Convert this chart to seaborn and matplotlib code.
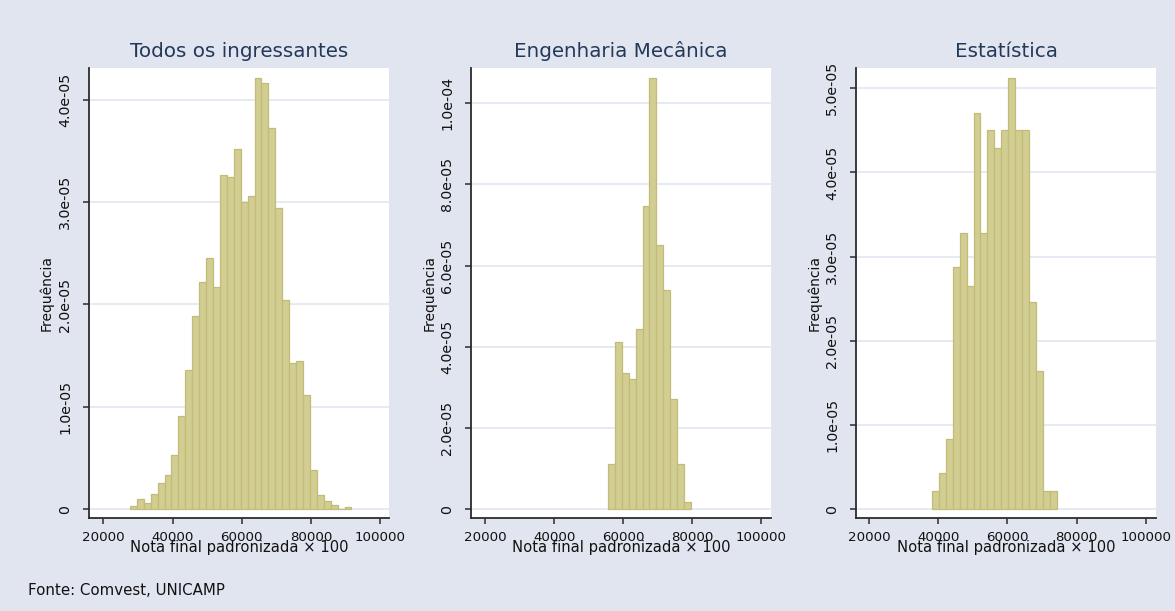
import numpy as np
import pandas as pd
import matplotlib
matplotlib.use("Agg")
import matplotlib.pyplot as plt
import seaborn as sns

# ---------------- data (densities) ----------------
titles = ["Todos os ingressantes", "Engenharia Mecânica", "Estatística"]
bin_width = 2000

todos_start = 27700
todos_density = [0.3e-6, 1.0e-6, 0.65e-6, 1.46e-6, 2.57e-6, 3.35e-6, 5.27e-6, 9.07e-6,
                 1.363e-5, 1.886e-5, 2.221e-5, 2.455e-5, 2.169e-5, 3.265e-5, 3.249e-5,
                 3.519e-5, 2.998e-5, 3.057e-5, 4.211e-5, 4.163e-5, 3.72e-5, 2.946e-5,
                 2.045e-5, 1.428e-5, 1.444e-5, 1.112e-5, 3.84e-6, 1.37e-6, 0.85e-6,
                 0.39e-6, 0.0, 0.25e-6]

mec_start = 55700
mec_density = [1.12e-5, 4.12e-5, 3.36e-5, 3.20e-5, 4.44e-5, 7.47e-5, 1.062e-4,
               6.52e-5, 5.40e-5, 2.72e-5, 1.12e-5, 1.7e-6]

est_start = 38200
est_density = [2.17e-6, 4.31e-6, 8.34e-6, 2.874e-5, 3.277e-5, 2.656e-5, 4.711e-5,
               3.277e-5, 4.502e-5, 4.292e-5, 4.502e-5, 5.119e-5, 4.502e-5, 4.502e-5,
               2.466e-5, 1.640e-5, 2.17e-6, 2.17e-6]

x_ticks = [20000, 40000, 60000, 80000, 100000]
y_ticks = [
    [0, 1e-5, 2e-5, 3e-5, 4e-5],
    [0, 2e-5, 4e-5, 6e-5, 8e-5, 1e-4],
    [0, 1e-5, 2e-5, 3e-5, 4e-5, 5e-5],
]
y_tops = [4.312e-5, 1.0873e-4, 5.243e-5]
y_bottoms = [-0.88e-6, -2.2e-6, -1.07e-6]

xlabel = "Nota final padronizada × 100"
ylabel = "Frequência"
source = "Fonte: Comvest, UNICAMP"

# ---------------- style ----------------
sns.set_theme(style="white")
plt.rcParams['font.family'] = ['DejaVu Sans']

BG = "#E1E5EF"
BAR = "#D2CE92"
BAR_EDGE = "#C2BC78"
GRID = "#E2E7F1"
AXC = "#2B2B2B"
TITLE_C = "#23395A"

fig = plt.figure(figsize=(11.75, 6.11), dpi=100, facecolor=BG)

lefts = [0.0757, 0.4009, 0.7285]
width = 0.2553
bottom = 0.1517
height = 0.7375

panels = [(todos_start, todos_density), (mec_start, mec_density), (est_start, est_density)]
xlims = [(15855, 102520), (15860, 103010), (16232, 102900)]

for i, (start, dens) in enumerate(panels):
    ax = fig.add_axes([lefts[i], bottom, width, height])
    ax.set_facecolor("white")
    n = len(dens)
    edges = [float(start + bin_width * k) for k in range(n + 1)]
    centers = [(edges[k] + edges[k + 1]) / 2 for k in range(n)]
    df = pd.DataFrame({"x": centers, "w": dens})
    sns.histplot(data=df, x="x", weights="w", bins=edges, stat="count", ax=ax,
                 color=BAR, edgecolor=BAR_EDGE, linewidth=0.9, alpha=1.0, zorder=2)
    ax.set_xlim(*xlims[i])
    ax.set_ylim(y_bottoms[i], y_tops[i])
    ax.set_xticks(x_ticks)
    ax.set_xticklabels([str(t) for t in x_ticks])
    ax.set_yticks(y_ticks[i])
    ax.set_yticklabels(['0' if v == 0 else f'{v:.1e}' for v in y_ticks[i]])
    ax.yaxis.grid(True, color=GRID, linewidth=1.2, zorder=0)
    ax.xaxis.grid(False)
    ax.set_axisbelow(True)
    for s in ["top", "right"]:
        ax.spines[s].set_visible(False)
    for s in ["left", "bottom"]:
        ax.spines[s].set_color(AXC)
        ax.spines[s].set_linewidth(1.3)
    ax.tick_params(axis="x", which="major", direction="out", length=4, width=1.1,
                   color=AXC, labelsize=9.6, labelcolor="#111111", pad=5, bottom=True)
    ax.tick_params(axis="y", which="major", direction="out", length=4, width=1.1,
                   color=AXC, labelsize=10.2, labelcolor="#111111", pad=8, left=True)
    for lab in ax.get_yticklabels():
        lab.set_rotation(90)
        lab.set_va("center")
        lab.set_ha("right")
    ax.set_xlabel(xlabel, fontsize=10.6, color="#111111", labelpad=-3)
    ax.set_ylabel(ylabel, fontsize=10, color="#111111", labelpad=3)
    ax.set_title(titles[i], fontsize=14.3, color=TITLE_C, pad=8)

fig.text(0.0238, 0.033, source, fontsize=10.8, color="#111111", ha="left", va="center")

fig.savefig("out.png", dpi=100, facecolor=BG)
